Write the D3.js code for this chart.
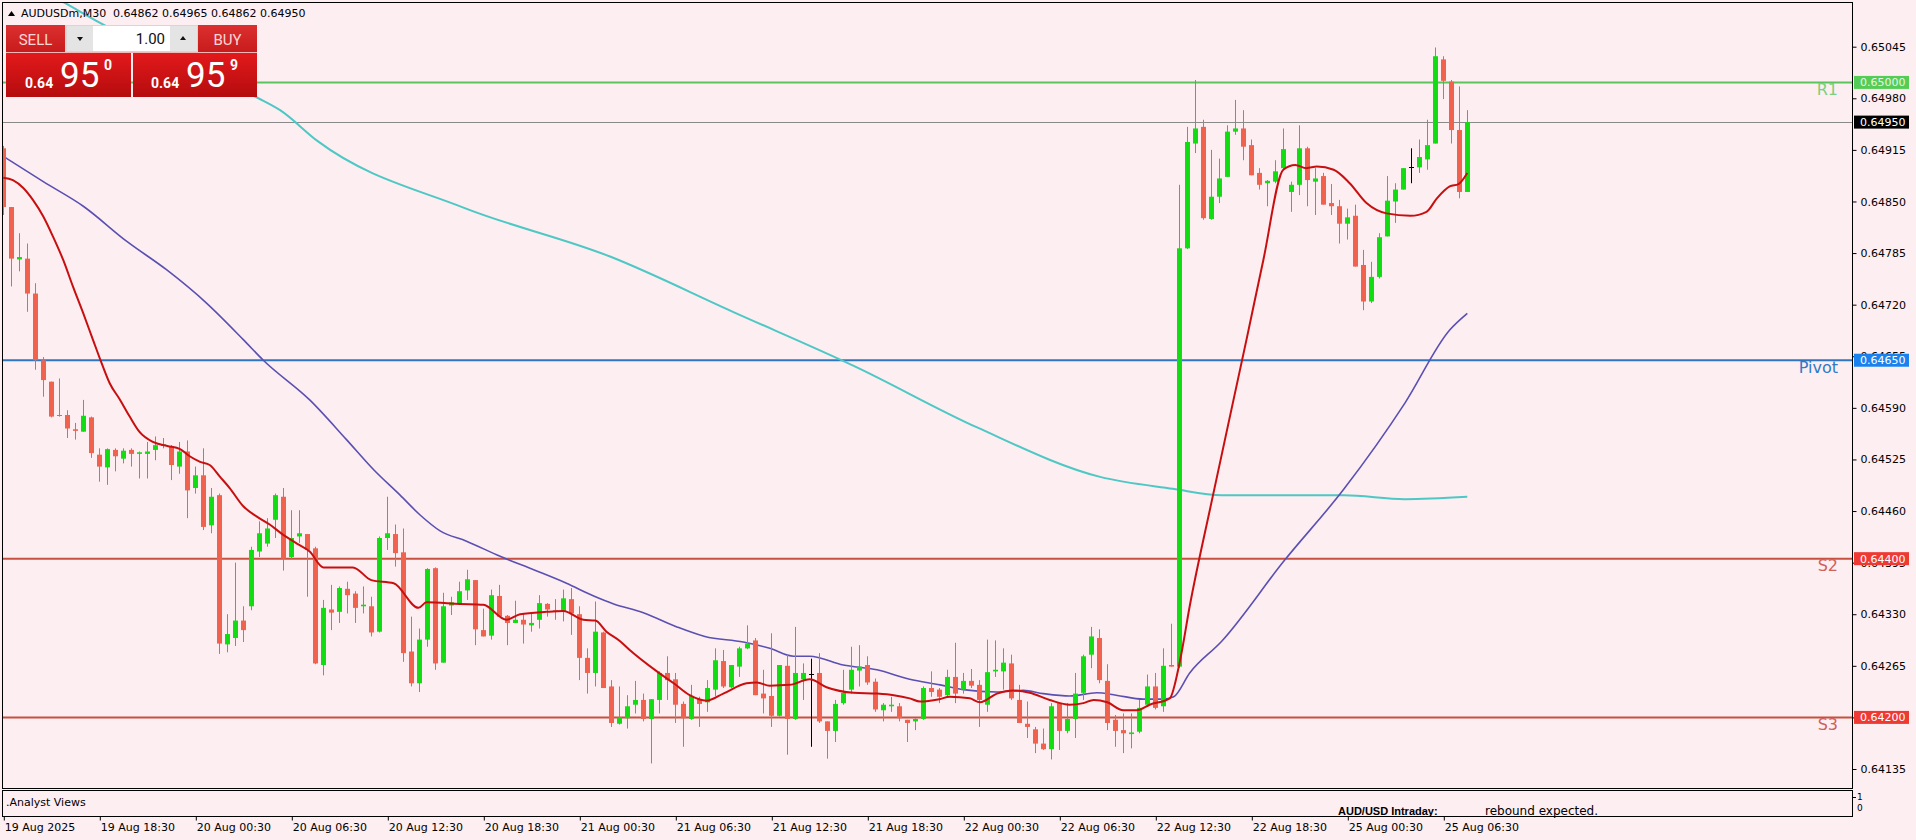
<!DOCTYPE html>
<html><head><meta charset="utf-8">
<script src="https://cdn.jsdelivr.net/npm/d3@7"></script>
<style>
html,body{margin:0;padding:0;background:#fdeef2;overflow:hidden;}
svg{display:block;font-family:"DejaVu Sans",sans-serif;}
</style></head><body>
<svg id="c" width="1916" height="840"></svg>
<script>
// ---------------- DATA ----------------
const symbol = "AUDUSDm,M30";
const timeLabels = ["19 Aug 2025","19 Aug 18:30","20 Aug 00:30","20 Aug 06:30","20 Aug 12:30","20 Aug 18:30",
  "21 Aug 00:30","21 Aug 06:30","21 Aug 12:30","21 Aug 18:30","22 Aug 00:30","22 Aug 06:30","22 Aug 12:30",
  "22 Aug 18:30","25 Aug 00:30","25 Aug 06:30"];
const timeTickIndex = [0,12,24,36,48,60,72,84,96,108,120,132,144,156,168,180];

const opens = [0.64917,0.64843,0.64777,0.64778,0.64734,0.64650,0.64623,0.64581,0.64581,0.64563,
0.64560,0.64578,0.64531,0.64515,0.64537,0.64526,0.64537,0.64532,0.64532,0.64537,
0.64542,0.64541,0.64516,0.64535,0.64489,0.64505,0.64442,0.64480,0.64292,0.64300,
0.64322,0.64340,0.64409,0.64419,0.64449,0.64478,0.64402,0.64428,0.64431,0.64413,
0.64266,0.64336,0.64333,0.64362,0.64356,0.64340,0.64340,0.64308,0.64426,0.64431,
0.64408,0.64283,0.64243,0.64298,0.64388,0.64269,0.64341,0.64344,0.64360,0.64373,
0.64310,0.64303,0.64353,0.64328,0.64319,0.64323,0.64316,0.64323,0.64343,0.64335,
0.64333,0.64349,0.64330,0.64275,0.64256,0.64307,0.64239,0.64192,0.64199,0.64216,
0.64222,0.64198,0.64222,0.64256,0.64248,0.64217,0.64198,0.64223,0.64219,0.64235,
0.64271,0.64238,0.64264,0.64287,0.64297,0.64230,0.64227,0.64202,0.64265,0.64198,
0.64248,0.64255,0.64256,0.64195,0.64183,0.64218,0.64235,0.64259,0.64266,0.64245,
0.64209,0.64214,0.64214,0.64197,0.64195,0.64198,0.64237,0.64235,0.64228,0.64251,
0.64235,0.64246,0.64241,0.64216,0.64258,0.64258,0.64268,0.64222,0.64192,0.64185,
0.64167,0.64160,0.64218,0.64183,0.64198,0.64231,0.64279,0.64300,0.64246,0.64197,
0.64184,0.64179,0.64182,0.64216,0.64239,0.64214,0.64266,0.64264,0.64791,0.64923,
0.64944,0.64828,0.64856,0.64881,0.64938,0.64942,0.64921,0.64886,0.64873,0.64875,
0.64892,0.64862,0.64871,0.64917,0.64875,0.64882,0.64848,0.64844,0.64822,0.64832,
0.64770,0.64724,0.64755,0.64806,0.64850,0.64865,0.64893,0.64893,0.64903,0.64923,
0.65029,0.65001,0.64940,0.64862];
const highs = [0.64920,0.64843,0.64810,0.64797,0.64747,0.64654,0.64623,0.64627,0.64587,0.64571,
0.64600,0.64579,0.64539,0.64539,0.64539,0.64539,0.64539,0.64535,0.64547,0.64554,
0.64552,0.64543,0.64547,0.64549,0.64516,0.64539,0.64489,0.64482,0.64330,0.64395,
0.64340,0.64415,0.64447,0.64451,0.64482,0.64489,0.64461,0.64461,0.64431,0.64415,
0.64348,0.64367,0.64365,0.64371,0.64359,0.64365,0.64352,0.64428,0.64478,0.64443,
0.64438,0.64327,0.64312,0.64388,0.64389,0.64357,0.64352,0.64371,0.64386,0.64373,
0.64337,0.64361,0.64367,0.64329,0.64347,0.64331,0.64331,0.64354,0.64344,0.64349,
0.64361,0.64363,0.64340,0.64287,0.64346,0.64308,0.64247,0.64239,0.64228,0.64246,
0.64230,0.64223,0.64258,0.64277,0.64256,0.64220,0.64241,0.64226,0.64247,0.64287,
0.64285,0.64266,0.64289,0.64316,0.64300,0.64260,0.64306,0.64266,0.64279,0.64314,
0.64268,0.64274,0.64281,0.64195,0.64222,0.64260,0.64289,0.64291,0.64277,0.64249,
0.64218,0.64226,0.64218,0.64197,0.64199,0.64239,0.64258,0.64237,0.64260,0.64294,
0.64256,0.64261,0.64247,0.64298,0.64297,0.64287,0.64279,0.64241,0.64220,0.64188,
0.64186,0.64218,0.64218,0.64218,0.64256,0.64279,0.64314,0.64311,0.64267,0.64203,
0.64205,0.64205,0.64222,0.64254,0.64256,0.64287,0.64318,0.64871,0.64944,0.65003,
0.64953,0.64915,0.64904,0.64946,0.64978,0.64965,0.64928,0.64892,0.64877,0.64902,
0.64942,0.64875,0.64946,0.64919,0.64892,0.64886,0.64872,0.64852,0.64841,0.64846,
0.64789,0.64774,0.64810,0.64882,0.64873,0.64892,0.64917,0.64928,0.64953,0.65044,
0.65033,0.65003,0.64995,0.64965];
const lows = [0.64833,0.64743,0.64762,0.64711,0.64638,0.64604,0.64578,0.64579,0.64552,0.64550,
0.64560,0.64527,0.64497,0.64493,0.64510,0.64520,0.64516,0.64501,0.64501,0.64524,
0.64539,0.64499,0.64507,0.64451,0.64482,0.64436,0.64432,0.64280,0.64282,0.64290,
0.64295,0.64335,0.64402,0.64415,0.64426,0.64385,0.64400,0.64420,0.64352,0.64267,
0.64253,0.64310,0.64319,0.64331,0.64319,0.64331,0.64302,0.64307,0.64411,0.64390,
0.64270,0.64239,0.64232,0.64289,0.64260,0.64269,0.64329,0.64342,0.64348,0.64291,
0.64302,0.64298,0.64327,0.64291,0.64319,0.64293,0.64308,0.64312,0.64327,0.64323,
0.64321,0.64304,0.64247,0.64230,0.64239,0.64237,0.64188,0.64191,0.64186,0.64205,
0.64195,0.64142,0.64205,0.64222,0.64193,0.64163,0.64197,0.64188,0.64207,0.64227,
0.64237,0.64237,0.64251,0.64286,0.64228,0.64205,0.64188,0.64201,0.64153,0.64197,
0.64222,0.64163,0.64193,0.64148,0.64169,0.64216,0.64230,0.64239,0.64241,0.64207,
0.64195,0.64207,0.64195,0.64169,0.64184,0.64197,0.64226,0.64218,0.64226,0.64218,
0.64230,0.64237,0.64188,0.64207,0.64251,0.64235,0.64222,0.64193,0.64174,0.64155,
0.64159,0.64147,0.64159,0.64180,0.64174,0.64222,0.64262,0.64243,0.64184,0.64163,
0.64155,0.64161,0.64180,0.64216,0.64210,0.64207,0.64264,0.64262,0.64790,0.64911,
0.64827,0.64827,0.64848,0.64881,0.64934,0.64902,0.64883,0.64865,0.64844,0.64873,
0.64890,0.64837,0.64858,0.64844,0.64833,0.64846,0.64833,0.64797,0.64802,0.64768,
0.64713,0.64722,0.64753,0.64806,0.64823,0.64865,0.64873,0.64886,0.64890,0.64923,
0.64979,0.64923,0.64854,0.64862];
const closes = [0.64843,0.64778,0.64780,0.64734,0.64650,0.64625,0.64579,0.64580,0.64564,0.64561,
0.64580,0.64533,0.64516,0.64538,0.64529,0.64536,0.64532,0.64534,0.64535,0.64543,
0.64544,0.64518,0.64535,0.64486,0.64505,0.64440,0.64478,0.64293,0.64305,0.64322,
0.64310,0.64411,0.64432,0.64438,0.64480,0.64400,0.64426,0.64432,0.64411,0.64268,
0.64338,0.64332,0.64363,0.64354,0.64338,0.64342,0.64307,0.64426,0.64432,0.64407,
0.64281,0.64243,0.64298,0.64387,0.64268,0.64340,0.64345,0.64359,0.64374,0.64311,
0.64302,0.64354,0.64327,0.64319,0.64323,0.64317,0.64319,0.64344,0.64336,0.64334,
0.64350,0.64331,0.64275,0.64256,0.64308,0.64237,0.64193,0.64200,0.64214,0.64222,
0.64198,0.64223,0.64256,0.64247,0.64216,0.64199,0.64227,0.64217,0.64237,0.64272,
0.64239,0.64266,0.64287,0.64293,0.64228,0.64224,0.64202,0.64266,0.64198,0.64256,
0.64256,0.64255,0.64195,0.64183,0.64217,0.64231,0.64260,0.64264,0.64244,0.64210,
0.64216,0.64216,0.64199,0.64193,0.64198,0.64237,0.64232,0.64226,0.64251,0.64230,
0.64246,0.64240,0.64222,0.64257,0.64260,0.64269,0.64224,0.64193,0.64188,0.64167,
0.64160,0.64214,0.64183,0.64198,0.64230,0.64277,0.64302,0.64247,0.64193,0.64183,
0.64180,0.64181,0.64212,0.64239,0.64212,0.64265,0.64264,0.64791,0.64925,0.64942,
0.64829,0.64856,0.64879,0.64938,0.64942,0.64919,0.64883,0.64871,0.64876,0.64888,
0.64916,0.64871,0.64917,0.64877,0.64879,0.64846,0.64844,0.64822,0.64830,0.64768,
0.64724,0.64755,0.64805,0.64851,0.64865,0.64892,0.64893,0.64906,0.64921,0.65033,
0.65002,0.64940,0.64862,0.64950];

// moving averages: [bar index, value]
const maFast = [[0,0.64880],[1.2,0.64877],[2.5,0.64867],[3.7,0.64852],[5,0.64831],[6.2,0.64806],[7.5,0.64776],
[8.7,0.64743],[10,0.64709],[11.2,0.64676],[12.3,0.64646],[13.3,0.64621],[14.6,0.64600],[15.8,0.64579],[17,0.64560],
[18.7,0.64547],[20.5,0.64542],[22.1,0.64538],[23.3,0.64529],[24.6,0.64522],[25.8,0.64518],[27.1,0.64503],[28.3,0.64489],
[30,0.64466],[31.7,0.64453],[33.3,0.64443],[35,0.64430],[36.7,0.64419],[38.3,0.64409],[40,0.64389],[43.7,0.64389],
[46,0.64373],[48.8,0.64369],[51.9,0.64338],[52.9,0.64345],[57.1,0.64343],[60,0.64342],[62.9,0.64323],[64.6,0.64330],
[67.9,0.64333],[70,0.64334],[72.5,0.64323],[74,0.64322],[75.4,0.64308],[77.1,0.64296],[78.3,0.64285],[81.7,0.64258],
[83.8,0.64243],[85.8,0.64228],[87.9,0.64221],[90,0.64230],[92.9,0.64243],[94.2,0.64244],[95.8,0.64240],[98.3,0.64241],
[100.8,0.64248],[102.9,0.64238],[106.3,0.64231],[109.2,0.64230],[111.3,0.64228],[113.3,0.64224],[114.6,0.64220],
[117,0.64223],[118.3,0.64226],[120.8,0.64224],[122.1,0.64219],[124.2,0.64230],[126.3,0.64234],[128.3,0.64231],
[130.8,0.64222],[133.3,0.64216],[135,0.64218],[136.3,0.64222],[138,0.64219],[140,0.64209],[141.7,0.64209],
[143.3,0.64216],[145.8,0.64224],[147.1,0.64272],[148.3,0.64340],[151,0.64470],[155.4,0.64676],[157.5,0.64776],
[160,0.64890],[161.5,0.64896],[162.9,0.64892],[164.2,0.64894],[166.3,0.64890],[168.3,0.64873],[170.4,0.64848],
[172.9,0.64835],[175.9,0.64832],[177.9,0.64837],[179.2,0.64854],[180.8,0.64869],[181.9,0.64872],[183,0.64886]];
const maMid = [[0,0.64907],[5,0.64875],[10,0.64844],[15.4,0.64800],[20.4,0.64764],[25.4,0.64722],[30,0.64676],
[32.5,0.64650],[38.3,0.64600],[42.9,0.64550],[46.3,0.64512],[49.6,0.64480],[52.1,0.64455],[54.6,0.64435],[57.9,0.64422],
[62.1,0.64403],[66.3,0.64386],[70.4,0.64369],[73.8,0.64353],[76.3,0.64343],[80,0.64332],[84.2,0.64314],[87.7,0.64302],
[92.5,0.64295],[95.8,0.64287],[98.8,0.64277],[100.8,0.64277],[105,0.64266],[109.2,0.64260],[113.3,0.64248],
[117.1,0.64241],[120,0.64235],[124.2,0.64232],[127.5,0.64234],[130,0.64230],[133.3,0.64227],[136.7,0.64231],
[139.1,0.64228],[142.5,0.64223],[145,0.64223],[146.3,0.64226],[148.3,0.64256],[152.3,0.64296],[160,0.64396],
[167.6,0.64488],[175.2,0.64596],[180.8,0.64688],[183,0.64709]];
const maSlow = [[0,0.65140],[7,0.65104],[12.1,0.65075],[31.7,0.64981],[34.6,0.64965],[39.3,0.64926],[57.6,0.64842],
[76,0.64780],[91.2,0.64711],[106.5,0.64642],[121.8,0.64565],[137.1,0.64503],[146.2,0.64488],[152.3,0.64480],
[167.6,0.64480],[175.2,0.64475],[183,0.64478]];

const levelNames = ["R1","Pivot","S2","S3"];
const levelValues = [0.65000,0.64650,0.64400,0.64200];
const levelColors = ["#5cc45c","#2f76c2","#c8503f","#c8503f"];
const levelTextColors = ["#7ccf7c","#2f7ac6","#d0605a","#d0605a"];
const tagColors = ["#55cc55","#1a82ee","#ee3a33","#ee3a33"];
const bidPrice = 0.64950, askPrice = 0.64959;
const lotSize = "1.00";
const yTicks = [0.65045,0.64980,0.64915,0.64850,0.64785,0.64720,0.64655,0.64590,0.64525,0.64460,0.64395,0.64330,0.64265,0.64200,0.64135];
const analystTitle = "AUD/USD Intraday:", analystText = "rebound expected.", subName = ".Analyst Views";

// ---------------- DRAW ----------------
const svg = d3.select("#c");
const P = {l:2.5, r:1852.5, t:2.5, b:788.5};
const bull = "#12dc12", bear = "#f0624e";
const x = d3.scaleLinear().domain([0, opens.length-1]).range([3.3, 1467.3]);
const y = d3.scaleLinear().domain([0.64135, 0.65045]).range([769, 46.7]);
const fmt = d3.format(".5f");

const defs = svg.append("defs");
defs.append("clipPath").attr("id","clip").append("rect")
  .attr("x",P.l).attr("y",P.t).attr("width",P.r-P.l).attr("height",P.b-P.t);
const g1 = defs.append("linearGradient").attr("id","pg").attr("x1",0).attr("y1",0).attr("x2",0).attr("y2",1);
g1.append("stop").attr("offset","0%").attr("stop-color","#e3191b");
g1.append("stop").attr("offset","100%").attr("stop-color","#b40c0e");
const g2 = defs.append("linearGradient").attr("id","bg2").attr("x1",0).attr("y1",0).attr("x2",0).attr("y2",1);
g2.append("stop").attr("offset","0%").attr("stop-color","#dc3030");
g2.append("stop").attr("offset","100%").attr("stop-color","#c81c1c");

svg.append("rect").attr("width",1916).attr("height",840).attr("fill","#fdeef2");

const plot = svg.append("g").attr("clip-path","url(#clip)");

// level lines
plot.selectAll("line.lvl").data(levelValues).join("line")
  .attr("x1",P.l).attr("x2",P.r).attr("y1",d=>y(d)).attr("y2",d=>y(d))
  .attr("stroke",(d,i)=>levelColors[i]).attr("stroke-width",2);
plot.append("line").attr("x1",P.l).attr("x2",P.r).attr("y1",Math.round(y(bidPrice))+0.5).attr("y2",Math.round(y(bidPrice))+0.5)
  .attr("stroke","#8a8a8a").attr("stroke-width",1);
plot.selectAll("text.lvl").data(levelValues).join("text")
  .attr("x",1838).attr("y",d=>y(d)+12.5).attr("text-anchor","end")
  .attr("font-size",16).attr("fill",(d,i)=>levelTextColors[i]).text((d,i)=>levelNames[i]);

// moving averages
const line = d3.line().x(d=>x(d[0])).y(d=>y(d[1])).curve(d3.curveMonotoneX);
plot.append("path").attr("d",line(maSlow)).attr("fill","none").attr("stroke","#4ec8c4").attr("stroke-width",2);
plot.append("path").attr("d",line(maMid)).attr("fill","none").attr("stroke","#5a50b2").attr("stroke-width",1.6);

// candles
const bars = opens.map((o,i)=>({i,o,h:highs[i],l:lows[i],c:closes[i]}));
const col = d => d.c>d.o ? bull : (d.c<d.o ? bear : "#000");
const cx = d => Math.round(x(d.i));
plot.selectAll("line.wick").data(bars).join("line")
  .attr("x1",d=>cx(d)+0.5).attr("x2",d=>cx(d)+0.5)
  .attr("y1",d=>y(d.h)).attr("y2",d=>y(d.l))
  .attr("stroke",col).attr("stroke-width",1);
plot.selectAll("rect.body").data(bars.filter(d=>d.o!==d.c)).join("rect")
  .attr("x",d=>cx(d)-2).attr("width",5)
  .attr("y",d=>y(Math.max(d.o,d.c))).attr("height",d=>Math.max(1,Math.abs(y(d.o)-y(d.c))))
  .attr("fill",col);
plot.selectAll("line.doji").data(bars.filter(d=>d.o===d.c)).join("line")
  .attr("x1",d=>cx(d)-2).attr("x2",d=>cx(d)+3)
  .attr("y1",d=>Math.round(y(d.o))+0.5).attr("y2",d=>Math.round(y(d.o))+0.5)
  .attr("stroke","#000").attr("stroke-width",1);

plot.append("path").attr("d",line(maFast)).attr("fill","none").attr("stroke","#c80f0f").attr("stroke-width",2);

// frames
svg.append("rect").attr("x",P.l).attr("y",P.t).attr("width",P.r-P.l).attr("height",P.b-P.t)
  .attr("fill","none").attr("stroke","#000");
svg.append("rect").attr("x",P.l).attr("y",790.5).attr("width",P.r-P.l).attr("height",26)
  .attr("fill","none").attr("stroke","#000");

// right price axis
const ya = d3.axisRight(y).tickValues(yTicks).tickSize(4).tickPadding(4).tickFormat(fmt);
const yg = svg.append("g").attr("transform",`translate(${P.r},0)`).call(ya);
yg.select(".domain").remove();
yg.attr("font-family","DejaVu Sans").attr("font-size",11);
yg.selectAll("text").attr("fill","#000");
yg.selectAll("line").attr("stroke","#000");

// price tags on axis
const tags = levelValues.map((v,i)=>({v,bg:tagColors[i],fg:i===0?"#e6f6e6":"#fff"})).concat([{v:bidPrice,bg:"#000",fg:"#fff"}]);
const tg = svg.append("g").selectAll("g").data(tags).join("g");
tg.append("rect").attr("x",1854).attr("y",d=>y(d.v)-6.5).attr("width",55).attr("height",13).attr("fill",d=>d.bg);
tg.append("text").attr("x",1860).attr("y",d=>y(d.v)+4).attr("font-size",11).attr("fill",d=>d.fg).text(d=>fmt(d.v));

// time axis
const xa = d3.axisBottom(x).tickValues(timeTickIndex).tickSize(4).tickPadding(3).tickFormat((d,i)=>timeLabels[i]);
const xg = svg.append("g").attr("transform","translate(0,816.5)").call(xa);
xg.select(".domain").remove();
xg.attr("font-family","DejaVu Sans").attr("font-size",11);
xg.selectAll(".tick line").attr("stroke","#000").attr("transform","translate(0.5,0)");
xg.selectAll(".tick text").attr("text-anchor","start").attr("x",1).attr("fill","#000");

// sub window texts
svg.append("text").attr("x",6).attr("y",806).attr("font-size",11).attr("fill","#000").text(subName);
svg.append("text").attr("x",1338).attr("y",815).attr("font-size",11).attr("font-weight","bold")
  .attr("font-family","'Liberation Sans', Arial, sans-serif").attr("fill","#000").text(analystTitle);
svg.append("text").attr("x",1485).attr("y",815).attr("font-size",12).attr("fill","#000").text(analystText);
svg.append("text").attr("x",1857).attr("y",800).attr("font-size",9).attr("fill","#000").text("1");
svg.append("text").attr("x",1857).attr("y",811).attr("font-size",9).attr("fill","#000").text("0");
svg.append("line").attr("x1",1852).attr("x2",1856).attr("y1",797.5).attr("y2",797.5).attr("stroke","#000");

// header
const last = bars[bars.length-1];
svg.append("path").attr("d","M8,16L15,16L11.5,11Z").attr("fill","#000");
svg.append("text").attr("x",21).attr("y",17).attr("font-size",11).attr("fill","#000").text(symbol);
svg.append("text").attr("x",113).attr("y",17).attr("font-size",11).attr("fill","#000")
  .text([last.o,last.h,last.l,last.c].map(fmt).join(" "));

// one-click trading panel
const pn = svg.append("g").attr("font-family","Roboto, 'Open Sans', sans-serif");
pn.append("rect").attr("x",65).attr("y",25).attr("width",133).attr("height",27).attr("fill","#d6d6d6");
pn.append("rect").attr("x",67).attr("y",26).attr("width",26).attr("height",25).attr("fill","#e4e4e4");
pn.append("rect").attr("x",93).attr("y",26).attr("width",77).attr("height",25).attr("fill","#ffffff");
pn.append("rect").attr("x",170).attr("y",26).attr("width",27).attr("height",25).attr("fill","#e4e4e4");
pn.append("path").attr("d","M77,37L83,37L80,41Z").attr("fill","#111");
pn.append("path").attr("d","M180,40L186,40L183,36Z").attr("fill","#111");
pn.append("text").attr("x",165).attr("y",44).attr("text-anchor","end").attr("font-size",15).attr("fill","#111").text(lotSize);
pn.append("rect").attr("x",6).attr("y",25).attr("width",59).attr("height",27).attr("fill","url(#bg2)");
pn.append("rect").attr("x",198).attr("y",25).attr("width",59).attr("height",27).attr("fill","url(#bg2)");
pn.append("text").attr("x",35.5).attr("y",44.5).attr("text-anchor","middle").attr("font-size",15).attr("fill","#ffd6d6").text("SELL");
pn.append("text").attr("x",227.5).attr("y",44.5).attr("text-anchor","middle").attr("font-size",15).attr("fill","#ffd6d6").text("BUY");
pn.append("line").attr("x1",6).attr("x2",257).attr("y1",52.5).attr("y2",52.5).attr("stroke","#f2b8b8");
pn.append("rect").attr("x",6).attr("y",53).attr("width",125).attr("height",44).attr("fill","url(#pg)");
pn.append("rect").attr("x",133).attr("y",53).attr("width",124).attr("height",44).attr("fill","url(#pg)");
function priceParts(p){ const s = fmt(p); return [s.slice(0,4), s.slice(4,6), s.slice(6)]; }
[[bidPrice,25],[askPrice,151]].forEach(([p,x0])=>{
  const [a,b,c] = priceParts(p);
  pn.append("text").attr("x",x0).attr("y",88).attr("font-size",14).attr("font-weight","bold").attr("fill","#fff").text(a);
  pn.append("text").attr("x",x0+35).attr("y",87).attr("font-size",35).attr("fill","#fff").text(b);
  pn.append("text").attr("x",x0+79).attr("y",70).attr("font-size",14).attr("font-weight","bold").attr("fill","#fff").text(c);
});
</script>
</body></html>
